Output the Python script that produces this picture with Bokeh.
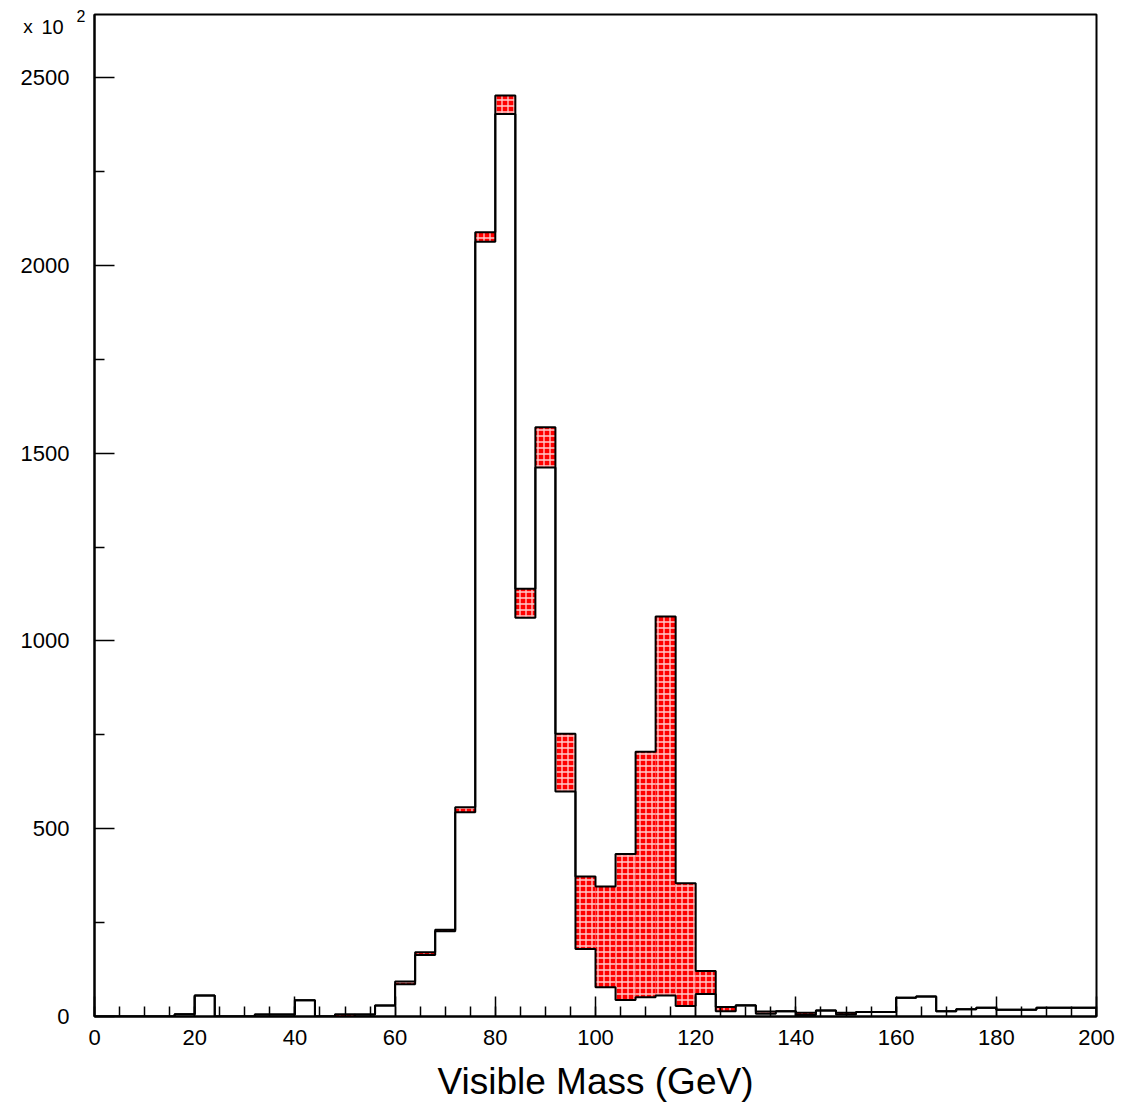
import numpy as np
from bokeh.plotting import figure
from bokeh.models import Range1d, FixedTicker, Label
from bokeh.embed import file_html
from bokeh.resources import INLINE

# Visible mass histogram, 4 GeV bins from 0 to 200 GeV (counts in units of 10^2)
bin_width = 4
bin_lo = np.arange(0, 200, bin_width)
bin_hi = bin_lo + bin_width

# Background-only distribution
background = [
    0, 0, 0, 0, 6, 56, 0, 0, 5, 5,
    43, 0, 0, 5, 29, 86, 164, 227, 544, 2063,
    2403, 1062, 1462, 599, 180, 78, 44, 51, 56, 28,
    60, 14, 29, 7, 14, 4, 16, 5, 12, 12,
    50, 53, 14, 19, 23, 18, 18, 23, 23, 23,
]

# Signal + background
total = [
    0, 0, 0, 0, 6, 56, 0, 0, 5, 5,
    43, 0, 6, 5, 29, 93, 171, 231, 557, 2088,
    2452, 1139, 1569, 753, 373, 346, 433, 705, 1065, 355,
    121, 25, 30, 13, 14, 10, 16, 10, 12, 12,
    50, 53, 14, 19, 23, 18, 18, 23, 23, 23,
]

x_major = [0, 20, 40, 60, 80, 100, 120, 140, 160, 180, 200]
x_minor = list(range(0, 201, 5))
y_major = [0, 500, 1000, 1500, 2000, 2500]
y_minor = [250, 750, 1250, 1750, 2250]

FONT = "Liberation Sans"

p = figure(
    width=1131, height=1107,
    x_range=Range1d(0, 200), y_range=Range1d(0, 2668),
    output_backend="svg", toolbar_location=None, title=None,
    min_border_left=94, min_border_right=35,
    min_border_top=14, min_border_bottom=91,
)
p.xgrid.visible = False
p.ygrid.visible = False
p.outline_line_color = "black"
p.outline_line_width = 2
p.outline_line_alpha = 1.0
p.background_fill_color = "white"
p.border_fill_color = "white"

# Signal excess: hatched red band between the two histograms
p.quad(
    left=bin_lo, right=bin_hi, bottom=background, top=total,
    fill_color="#ff0000", line_color=None,
    hatch_pattern="+", hatch_color="white", hatch_scale=6,
    hatch_weight=1.3, hatch_alpha=0.8,
)


def step_outline(values):
    xs = np.concatenate([[bin_lo[0]], np.column_stack([bin_lo, bin_hi]).ravel(), [bin_hi[-1]]])
    ys = np.concatenate([[0], np.repeat(values, 2), [0]])
    return xs, ys


for series in (background, total):
    xs, ys = step_outline(np.asarray(series, dtype=float))
    p.line(xs, ys, line_color="black", line_width=2)

# Axes: ticks drawn inward, like a classic HBOOK frame
for ax in (p.xaxis, p.yaxis):
    ax.axis_line_width = 2
    ax.axis_line_color = "black"
    ax.major_tick_in = 20
    ax.major_tick_out = 0
    ax.minor_tick_in = 10
    ax.minor_tick_out = 0
    ax.major_tick_line_width = 1.5
    ax.minor_tick_line_width = 1.5
    ax.major_tick_line_color = "black"
    ax.minor_tick_line_color = "black"
    ax.major_label_text_font = FONT
    ax.major_label_text_font_size = "22px"
    ax.major_label_text_color = "black"

p.xaxis.ticker = FixedTicker(ticks=x_major, minor_ticks=x_minor)
p.yaxis.ticker = FixedTicker(ticks=y_major, minor_ticks=y_minor)
p.xaxis.major_label_standoff = 13
p.yaxis.major_label_standoff = 25

p.xaxis.axis_label = "Visible Mass (GeV)"
p.xaxis.axis_label_text_font = FONT
p.xaxis.axis_label_text_font_size = "37px"
p.xaxis.axis_label_text_font_style = "normal"
p.xaxis.axis_label_text_color = "black"
p.xaxis.axis_label_standoff = 13

# Scale factor of the y axis ("x 10^2"), kept in the side panels so that
# it is drawn outside the data frame
common = dict(text_font=FONT, text_baseline="alphabetic", text_color="black")
p.add_layout(Label(x=-14.2, y=2636, text="x", text_font_size="19px", **common), "left")
p.add_layout(Label(x=-10.6, y=2636, text="10", text_font_size="20px", **common), "right")
p.add_layout(Label(x=-3.6, y=2665, text="2", text_font_size="16px", **common), "right")

open("out.html", "w").write(file_html(p, INLINE))
